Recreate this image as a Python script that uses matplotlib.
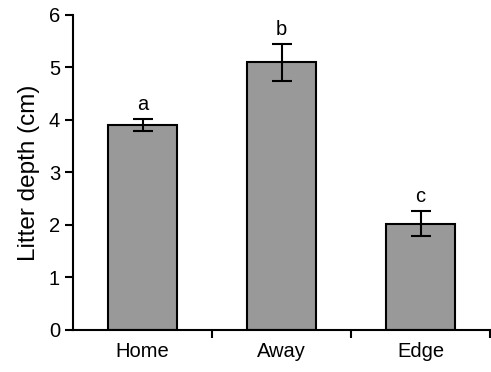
import numpy as np
import matplotlib
matplotlib.use("Agg")
import matplotlib.pyplot as plt

plt.rcParams['font.family'] = ['Liberation Sans', 'DejaVu Sans']

# 데이터
sites = ["Home", "Away", "Edge"]
depth = [3.90, 5.10, 2.02]
depth_se = [0.12, 0.35, 0.24]
letters = ["a", "b", "c"]

fig = plt.figure(figsize=(4.91, 3.72), dpi=100)
ax = fig.add_axes([0.149, 0.113, 0.849, 0.847])

x = np.arange(len(sites))
ax.bar(x, depth, width=0.5, color="#999999", edgecolor="black", linewidth=1.5,
       yerr=depth_se, capsize=7, error_kw=dict(elinewidth=1.5, capthick=1.5, ecolor="black"))

# 유의성 문자
for xi, d, s, l in zip(x, depth, depth_se, letters):
    ax.text(xi, d + s + 0.1, l, ha="center", va="bottom", fontsize=14.5)

ax.set_xlim(-0.5, 2.5)
ax.set_ylim(0, 6)
ax.set_yticks(range(7))
ax.set_xticks(x)
ax.set_xticklabels(sites, fontsize=14.5)
ax.set_xticks([0.5, 1.5, 2.5], minor=True)
ax.tick_params(axis="x", which="major", length=0, pad=9)
ax.tick_params(axis="x", which="minor", length=6, width=1.5)
ax.tick_params(axis="y", length=6, width=1.5, labelsize=14.5)
ax.set_ylabel("Litter depth (cm)", fontsize=17.5, labelpad=6)

for sp in ["top", "right"]:
    ax.spines[sp].set_visible(False)
for sp in ["left", "bottom"]:
    ax.spines[sp].set_linewidth(1.5)

fig.savefig("out.png", dpi=100)
